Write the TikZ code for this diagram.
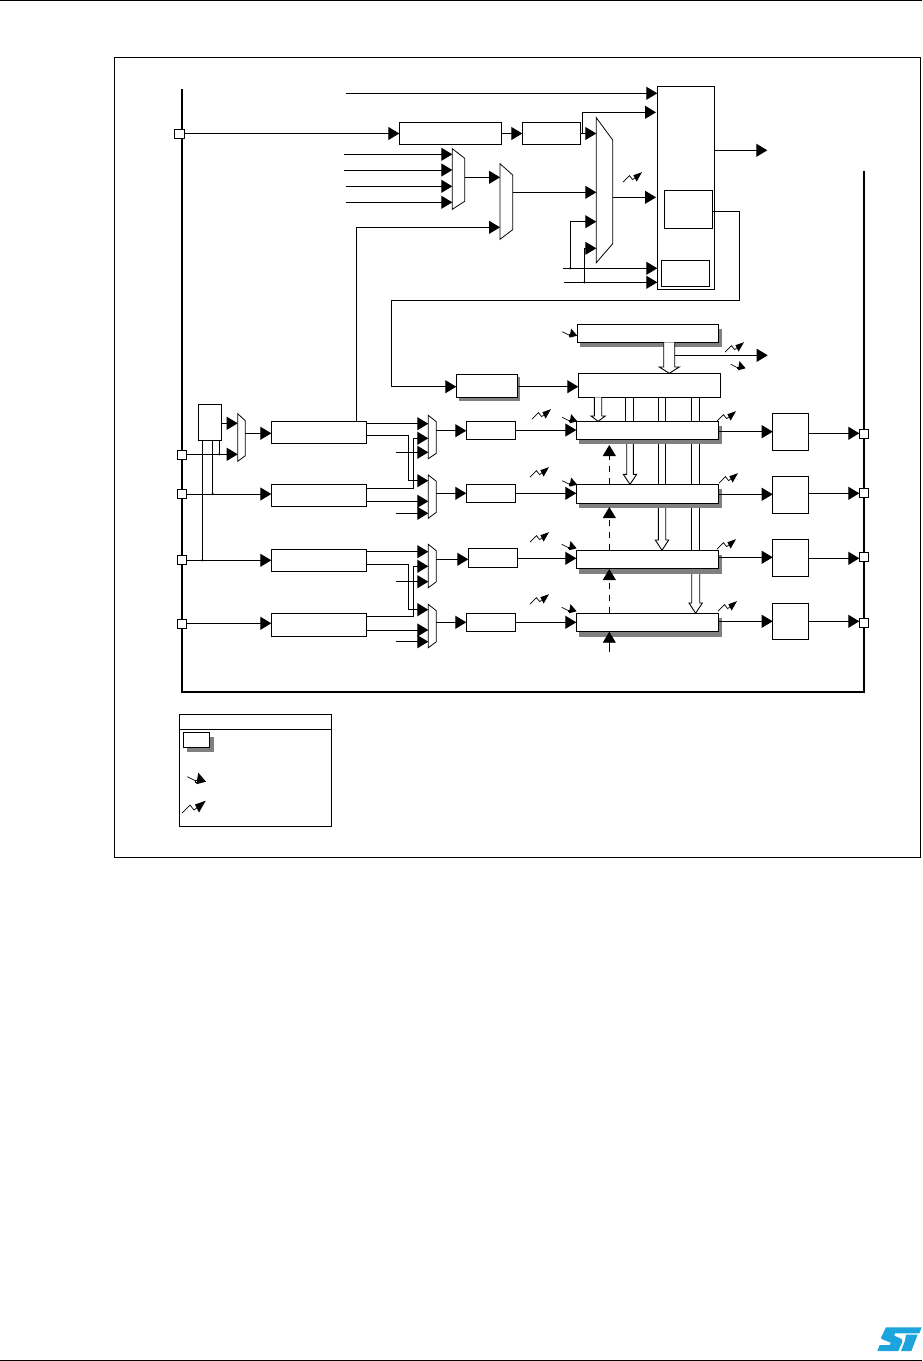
\documentclass[tikz,border=0pt]{standalone}
\usetikzlibrary{arrows.meta}
\definecolor{stblue}{RGB}{28,165,221}
\definecolor{shadowgray}{RGB}{128,128,128}
\tikzset{
  conn/.style={draw=black,line width=.9pt,-{Triangle[length=11pt,width=13pt]},line join=miter},
  wire/.style={draw=black,line width=.9pt},
  dashconn/.style={conn,dash pattern=on 6pt off 6pt},
  blockbox/.style={draw=black,fill=white,line width=.9pt,inner sep=0pt,outer sep=0pt},
  ghostbox/.style={inner sep=0pt,outer sep=0pt},
  muxshape/.style={draw=black,fill=white,line width=.8pt,line join=miter},
  hollow/.style={draw=black,fill=white,line width=.9pt,line join=miter},
  shadowfill/.style={fill=shadowgray,draw=none},
  bus/.style={draw=black,line width=1.8pt,line join=miter},
  frame/.style={draw=black,line width=.9pt}
}
% name, x1, y1, x2, y2
\newcommand\bx[5]{\node[blockbox,minimum width={#4-#2},minimum height={#5-#3}] (#1) at ({(#2+#4)/2},{(#3+#5)/2}) {};}
% shadowed box: name, x1, y1, x2, y2
\newcommand\sbx[5]{\fill[shadowfill] ({#2+3},{#3+5}) rectangle ({#4+3},{#5+5});\bx{#1}{#2}{#3}{#4}{#5}}
% mux: name, xl, xr, top left, bottom left, top right, bottom right
\newcommand\mux[7]{\draw[muxshape] (#2,#4) -- (#3,#6) -- (#3,#7) -- (#2,#5) -- cycle;
  \node[ghostbox,minimum width={#3-#2},minimum height={#5-#4}] (#1) at ({(#2+#3)/2},{(#4+#5)/2}) {};}
% zigzag arrow icon: x, y, scale
\newcommand\zig[3]{\begin{scope}[shift={(#1,#2)},scale=#3]
  \draw[line width=.7pt] (0,0) -- (8,-8) -- (12,-3) -- (16,-6);
  \fill (23.7,-12.3) -- (13,-8.5) -- (17,-0.5) -- cycle;
\end{scope}}
% small arrow icon: x, y, scale
\newcommand\zog[3]{\begin{scope}[shift={(#1,#2)},scale=#3]
  \draw[line width=.7pt] (0,0) -- (9,4.5);
  \fill (18.7,5) -- (11,-4) -- (9,7.5) -- cycle;
  \draw[line width=.4pt,fill=white] (8,3) rectangle (9.5,5);
\end{scope}}
% block arrow: stem left, stem right, head left, head right, y start, y base, y tip
\newcommand\blockarrow[7]{\draw[hollow] (#1,#5) -- (#1,#6) -- (#3,#6) -- ({(#3+#4)/2},#7) -- (#4,#6) -- (#2,#6) -- (#2,#5);}
% closed stem: x left, x right, y start, y end
\newcommand\stem[4]{\draw[hollow] (#1,#3) rectangle (#2,#4);}
\begin{document}
\begin{tikzpicture}[x=1pt,y=-1pt]
\useasboundingbox (0,0) rectangle (922,1361);
\fill[white] (0,0) rectangle (922,1361);
% page rules and outer frame
\draw[line width=1pt] (0,.5) -- (922,.5);
\draw[line width=1pt] (0,1360) -- (922,1360);
\draw[frame] (114.5,57) rectangle (920.8,857);
% bus lines
\draw[bus] (182,89) -- (182,691.7) -- (864,691.7) -- (864,171);
% ports
\bx{pa}{174.3}{129.3}{184}{138.3}
\bx{pb}{177.3}{450.3}{186.7}{459.3}
\bx{pc}{177.3}{489.3}{186.7}{498.7}
\bx{pd}{177.3}{555.3}{186.7}{564.7}
\bx{pe}{177.3}{619.3}{186.7}{628.7}
\bx{qa}{859.3}{429.3}{868.7}{438.7}
\bx{qb}{859.3}{488.3}{868.7}{497.7}
\bx{qc}{859.3}{552.3}{868.7}{561.7}
\bx{qd}{859.3}{618.3}{868.7}{627.7}
% upper section
\bx{top}{399.3}{122.3}{501.7}{144.3}
\bx{presc}{522.3}{122.3}{580.3}{144.3}
\mux{ma}{452.3}{464.7}{148.7}{209.3}{158.3}{201.3}
\mux{mb}{500}{512.7}{163.7}{239.3}{175}{229.7}
\mux{mc}{596.3}{612.7}{117.7}{262.7}{140}{243.7}
\bx{big}{657.3}{86.3}{714.7}{289.3}
\bx{inner}{664.3}{190.3}{712.7}{228.3}
\bx{innerb}{661.3}{260.3}{709.7}{286.7}
\coordinate (ca) at (346,93.3);
\coordinate (cb) at (344,154.3);
\coordinate (cc) at (344,170);
\coordinate (cd) at (346,186.3);
\coordinate (ce) at (346,202.3);
\coordinate (cf) at (563,268.3);
\coordinate (cg) at (564,282.3);
\coordinate (ch) at (767.3,150.3);
\coordinate (ji) at (570.3,268.3);
\coordinate (jj) at (584.3,282.3);
\draw[conn] (ca) -- (big.west |- ca);
\draw[conn] (pa.east |- 0,133.5) -- (top.west |- 0,133.5);
\draw[conn] (top.east |- 0,133.5) -- (presc.west |- 0,133.5);
\draw[conn] (presc.east |- 0,133.5) -- (mc.west |- 0,133.5);
\draw[conn] (582.3,133.5) -- (582.3,112.3) -- (656,112.3);
\draw[conn] (cb) -- (ma.west |- cb);
\draw[conn] (cc) -- (ma.west |- cc);
\draw[conn] (cd) -- (ma.west |- cd);
\draw[conn] (ce) -- (ma.west |- ce);
\draw[conn] (ma.east |- 0,177.3) -- (mb.west |- 0,177.3);
\draw[conn] (mb.east |- 0,192.3) -- (mc.west |- 0,192.3);
\draw[conn] (mc.east |- 0,197.3) -- (656,197.3);
\draw[conn] (ji) -- (ji |- 0,221.7) -- (mc.west |- 0,221.7);
\draw[conn] (jj) -- (jj |- 0,248.3) -- (mc.west |- 0,248.3);
\draw[conn] (cf) -- (big.west |- cf);
\draw[conn] (cg) -- (big.west |- cg);
\fill (ji) circle (1.2);
\fill (jj) circle (1.2);
\draw[conn] (big.east |- ch) -- (ch);
% pipeline boxes
\sbx{prea}{577.3}{324.3}{718.7}{342.3}
\bx{preb}{578.3}{373.3}{720.7}{397.3}
\fill[shadowfill] (459,377.3) rectangle (520.2,400.7);
\bx{psc}{456.3}{374.3}{517.7}{397.7}
\draw[conn] (inner.east |- 0,211.3) -- (739.3,211.3) -- (739.3,300.3) -- (391.3,300.3) -- (391.3,386.7) -- (psc.west |- 0,386.7);
\draw[conn] (psc.east |- 0,386.7) -- (preb.west |- 0,386.7);
\coordinate (ci) at (767.7,355.3);
\draw[conn] (674.7,355.3) -- (ci);
% block arrows (behind the registers)
\blockarrow{663.7}{674.7}{659.3}{679.3}{342.3}{367}{373.3}
\blockarrow{594.3}{601.7}{591}{605.3}{397.3}{416}{421.3}
\blockarrow{626.7}{633.3}{623.3}{636.7}{430}{474.3}{484.3}
\stem{625.3}{633.3}{397.3}{425}
\stem{658.3}{665.7}{397.3}{484.3}
\blockarrow{658.3}{665.7}{655.3}{668.7}{495}{540}{550.3}
\stem{691.7}{699.7}{397.3}{550.3}
\blockarrow{691.7}{699.7}{689}{702.3}{560}{603}{613.3}
% compare registers
\sbx{ra}{576.3}{421.3}{718.7}{439.3}
\sbx{rb}{576.3}{484.3}{718.7}{503.3}
\sbx{rc}{576.3}{550.3}{718.7}{568.7}
\sbx{rd}{576.3}{613.3}{718.7}{631.7}
% dashed up arrows
\draw[dashconn] (rb.north -| 609.3,0) -- (609.3,445);
\draw[dashconn] (rc.north -| 609.3,0) -- (609.3,507);
\draw[dashconn] (rd.north -| 609.3,0) -- (609.3,569);
\coordinate (cj) at (609.3,651.7);
\draw[conn] (cj) -- (609.3,631.7);
% output stages
\bx{oa}{772.7}{413.3}{808.7}{450.3}
\bx{ob}{772.7}{476.3}{808.7}{513.3}
\bx{oc}{772.7}{539.3}{808.7}{576.3}
\bx{od}{772.7}{603.3}{808.7}{639.3}
\draw[conn] (ra.east |- 0,431.7) -- (oa.west |- 0,431.7);
\draw[conn] (rb.east |- 0,494.3) -- (ob.west |- 0,494.3);
\draw[conn] (rc.east |- 0,557.3) -- (oc.west |- 0,557.3);
\draw[conn] (rd.east |- 0,621.3) -- (od.west |- 0,621.3);
\draw[conn] (oa.east |- 0,433.3) -- (qa.west |- 0,433.3);
\draw[conn] (ob.east |- 0,493.3) -- (qb.west |- 0,493.3);
\draw[conn] (oc.east |- 0,558.3) -- (qc.west |- 0,558.3);
\draw[conn] (od.east |- 0,621.3) -- (qd.west |- 0,621.3);
% small boxes before registers
\bx{sa}{466.3}{421.3}{515.7}{439.3}
\bx{sb}{466.3}{484.3}{515.7}{502.3}
\bx{sc}{468.3}{548.3}{517.7}{567.3}
\bx{sd}{466.3}{613.3}{515.7}{631.3}
\draw[conn] (sa.east |- 0,430) -- (ra.west |- 0,430);
\draw[conn] (sb.east |- 0,493.3) -- (rb.west |- 0,493.3);
\draw[conn] (sc.east |- 0,558.3) -- (rc.west |- 0,558.3);
\draw[conn] (sd.east |- 0,622.3) -- (rd.west |- 0,622.3);
% channel muxes
\mux{na}{428.3}{436.3}{415.3}{458.7}{421.7}{453.3}
\mux{nb}{428.3}{436.3}{475}{518.3}{481.3}{512.3}
\mux{nc}{428.3}{436.3}{544.3}{587.7}{550.7}{581.7}
\mux{nd}{428.3}{436.3}{604.3}{647.7}{610.7}{641.7}
\draw[conn] (na.east |- 0,430.7) -- (sa.west |- 0,430.7);
\draw[conn] (nb.east |- 0,493.3) -- (sb.west |- 0,493.3);
\draw[conn] (nc.east |- 0,559.3) -- (sc.west |- 0,559.3);
\draw[conn] (nd.east |- 0,622.3) -- (sd.west |- 0,622.3);
% input filters
\bx{fa}{271.3}{421.3}{366.7}{443.3}
\bx{fb}{271.3}{484.3}{366.7}{506.3}
\bx{fc}{271.3}{549.3}{366.7}{571.3}
\bx{fd}{271.3}{613.3}{366.7}{636.3}
\draw[wire] (fa.north -| 356.3,0) -- (356.3,227.3);
\draw[conn] (356.3,227.3) -- (mb.west |- 0,227.3);
\draw[conn] (fa.east |- 0,423.7) -- (na.west |- 0,423.7);
\draw[conn] (fa.east |- 0,435.3) -- (408.7,435.3) -- (408.7,480.7) -- (nb.west |- 0,480.7);
\draw[conn] (fb.east |- 0,488.3) -- (413.3,488.3) -- (413.3,438.3) -- (na.west |- 0,438.3);
\draw[conn] (fb.east |- 0,501.3) -- (nb.west |- 0,501.3);
\coordinate (ck) at (396,452.3);
\coordinate (cl) at (396,513.3);
\coordinate (cm) at (396,581.7);
\coordinate (cn) at (396,641.7);
\draw[conn] (ck) -- (na.west |- ck);
\draw[conn] (cl) -- (nb.west |- cl);
\draw[conn] (fc.east |- 0,551.7) -- (nc.west |- 0,551.7);
\draw[conn] (fc.east |- 0,564) -- (408.7,564) -- (408.7,609.7) -- (nd.west |- 0,609.7);
\draw[conn] (fd.east |- 0,616.3) -- (413.3,616.3) -- (413.3,566.3) -- (nc.west |- 0,566.3);
\draw[conn] (fd.east |- 0,630) -- (nd.west |- 0,630);
\draw[conn] (cm) -- (nc.west |- cm);
\draw[conn] (cn) -- (nd.west |- cn);
% XOR box and input mux
\bx{xbox}{198.3}{404.3}{221.7}{440.7}
\mux{xm}{237.7}{245.3}{413.7}{461.3}{420.7}{455.7}
\draw[conn] (xbox.east |- 0,423.3) -- (xm.west |- 0,423.3);
\draw[conn] (pb.east |- 0,454.3) -- (xm.west |- 0,454.3);
\draw[conn] (xm.east |- 0,433.3) -- (fa.west |- 0,433.3);
\draw[conn] (pc.east |- 0,494) -- (fb.west |- 0,494);
\draw[conn] (pd.east |- 0,560.3) -- (fc.west |- 0,560.3);
\draw[conn] (pe.east |- 0,623.3) -- (fd.west |- 0,623.3);
\coordinate (ja) at (219.3,454.3);
\coordinate (jb) at (212.7,494);
\coordinate (jc) at (202.3,560.3);
\draw[wire] (xbox.south -| ja) -- (ja);
\draw[wire] (xbox.south -| jb) -- (jb);
\draw[wire] (xbox.south -| jc) -- (jc);
\fill (ja) circle (1.2);
\fill (jb) circle (1.2);
\fill (jc) circle (1.2);
% event icons
\zig{623}{182}{.8}
\zig{725}{352}{.8}
\zig{532}{419}{.8}
\zig{717}{421}{.8}
\zig{530}{477}{.8}
\zig{719}{483}{.8}
\zig{530}{542}{.8}
\zig{717}{549}{.8}
\zig{530}{604}{.8}
\zig{718}{611}{.8}
\zog{562.3}{331.7}{.8}
\zog{562.3}{417.3}{.8}
\zog{562.3}{480.7}{.8}
\zog{561.7}{544.3}{.8}
\zog{561.7}{607.3}{.8}
\zog{730.7}{364.3}{.8}
% legend
\bx{legend}{179.3}{714.3}{331.3}{826.7}
\draw[wire] (legend.west |- 0,729.3) -- (legend.east |- 0,729.3);
\fill[shadowfill] (187,736.5) rectangle (214,752);
\bx{legsq}{183.3}{732.3}{209.7}{747.7}
\zog{187.3}{776.7}{1}
\zig{182}{813}{1}
% logo
\begin{scope}[shift={(780,1270)},x=.3333pt,y=-.3333pt]
\fill[stblue] (318,172) -- (425,172) -- (418,190) -- (345,190) -- (343,197) -- (365,207) -- (367,215) -- (355,243) -- (292,243) -- (299,225) -- (330,225) -- (332,218) -- (305,207) -- (303,203) -- cycle;
\fill[stblue] (378,194) -- (413,194) -- (394,243) -- (363,243) -- (375,212) -- cycle;
\end{scope}
\end{tikzpicture}
\end{document}
